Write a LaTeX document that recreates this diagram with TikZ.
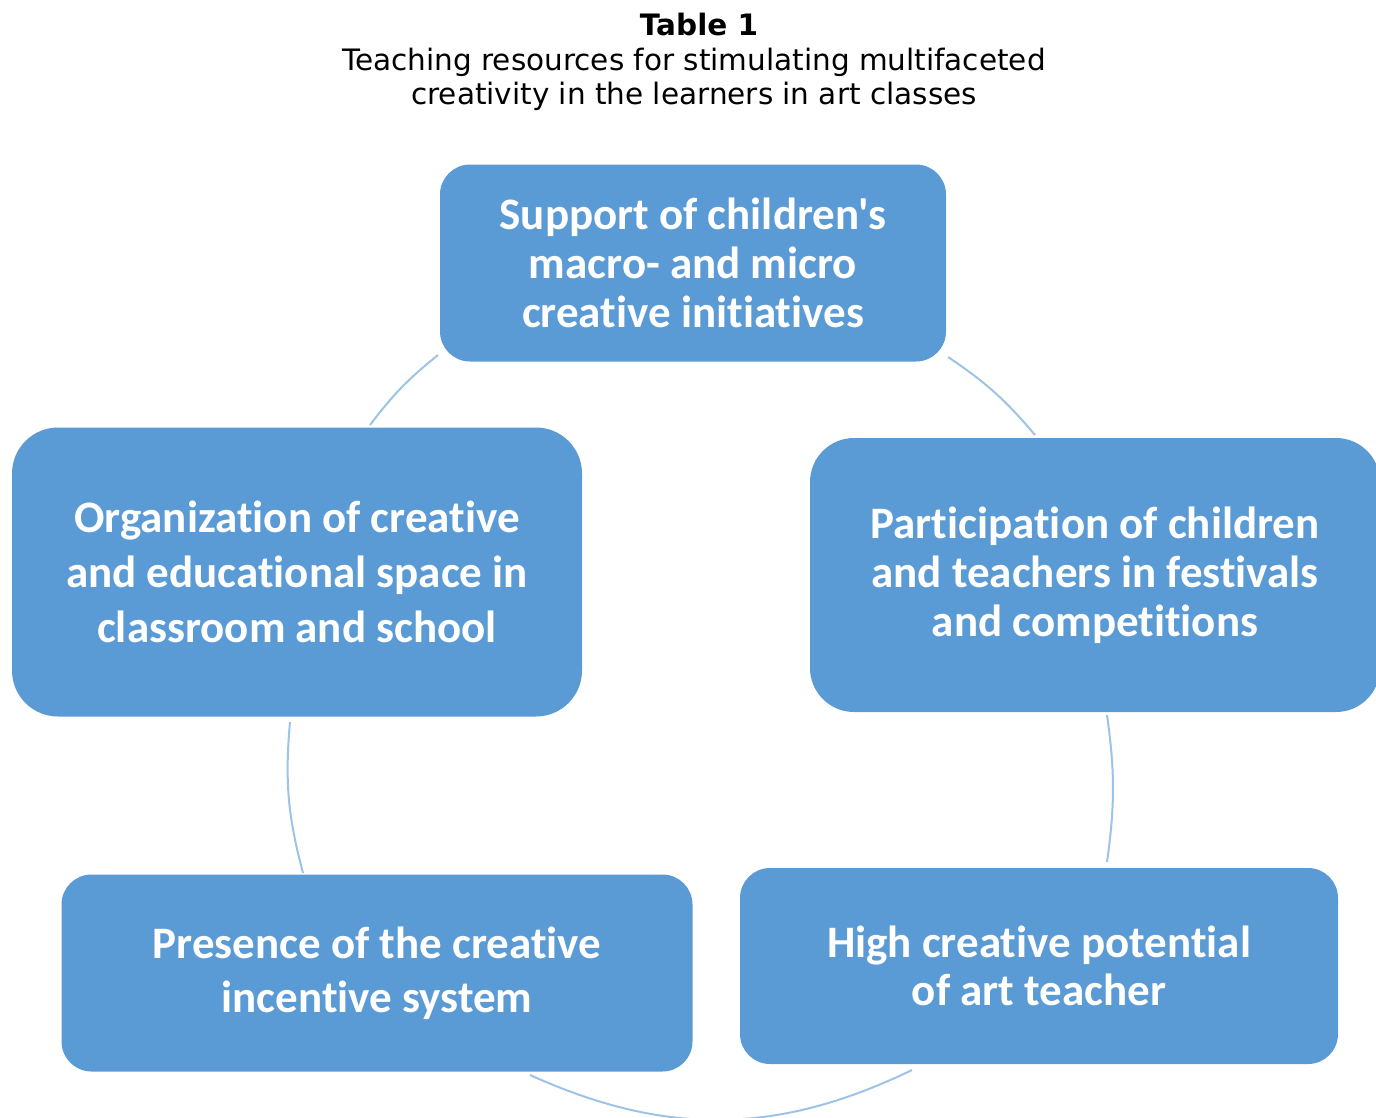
\documentclass[tikz,border=0pt]{standalone}
\usepackage{fontspec}
\setmainfont{DejaVu Sans}
\newfontfamily\boxfont[Ligatures=CommonOff]{Carlito}
\definecolor{boxblue}{HTML}{5B9BD5}
\definecolor{linkblue}{HTML}{9DC3E6}
\tikzset{
  resource/.style = {rectangle, rounded corners=#1, fill=boxblue, text=white,
    inner sep=0pt, align=center},
  resource/.default = 30,
  link/.style = {draw=linkblue, line width=2pt}
}

\begin{document}
\begin{tikzpicture}[x=1pt,y=-1pt]
  \useasboundingbox (0,0) rectangle (1376,1117);
  \node[font=\bfseries\fontsize{29.5}{34}\selectfont] (title) at (699,24) {Table 1};
  \node[font=\fontsize{29.5}{34}\selectfont, align=center] (subtitle) at (694,79)
    {Teaching resources for stimulating multifaceted\\creativity in the learners in art classes};
  \node[resource, minimum width=506, minimum height=197,
        font=\boxfont\bfseries\fontsize{45}{49}\selectfont] (support) at (693,263)
    {Support of children's\\macro- and micro\\creative initiatives};
  \node[resource=46, minimum width=570, minimum height=289,
        font=\boxfont\bfseries\fontsize{45}{55}\selectfont] (space) at (297,572)
    {Organization of creative\\and educational space in\\classroom and school};
  \node[resource=44, minimum width=570, minimum height=274,
        font=\boxfont\bfseries\fontsize{45}{49}\selectfont] (festivals) at (1095,575)
    {Participation of children\\and teachers in festivals\\and competitions};
  \node[resource, minimum width=631, minimum height=197,
        font=\boxfont\bfseries\fontsize{45}{54}\selectfont] (incentive) at (377,973)
    {Presence of the creative\\incentive system};
  \node[resource, minimum width=598, minimum height=196,
        font=\boxfont\bfseries\fontsize{45}{48}\selectfont] (teacher) at (1039,966)
    {High creative potential\\of art teacher};
  \coordinate (space-n) at (370,425);
  \coordinate (support-w) at (438,355);
  \coordinate (support-e) at (948,357);
  \coordinate (festivals-n) at (1035,435);
  \coordinate (festivals-s) at (1107,715);
  \coordinate (teacher-n) at (1107,862);
  \coordinate (teacher-s) at (912,1070);
  \coordinate (incentive-s) at (530,1075);
  \coordinate (incentive-n) at (303,873);
  \coordinate (space-s) at (290,722);
  \draw[link] (space-n) to[bend left=7] (support-w);
  \draw[link] (support-e) to[bend left=8] (festivals-n);
  \draw[link] (festivals-s) to[bend left=8] (teacher-n);
  \draw[link] (teacher-s) to[bend left=25] (incentive-s);
  \draw[link] (incentive-n) to[bend left=10] (space-s);
\end{tikzpicture}
\end{document}
